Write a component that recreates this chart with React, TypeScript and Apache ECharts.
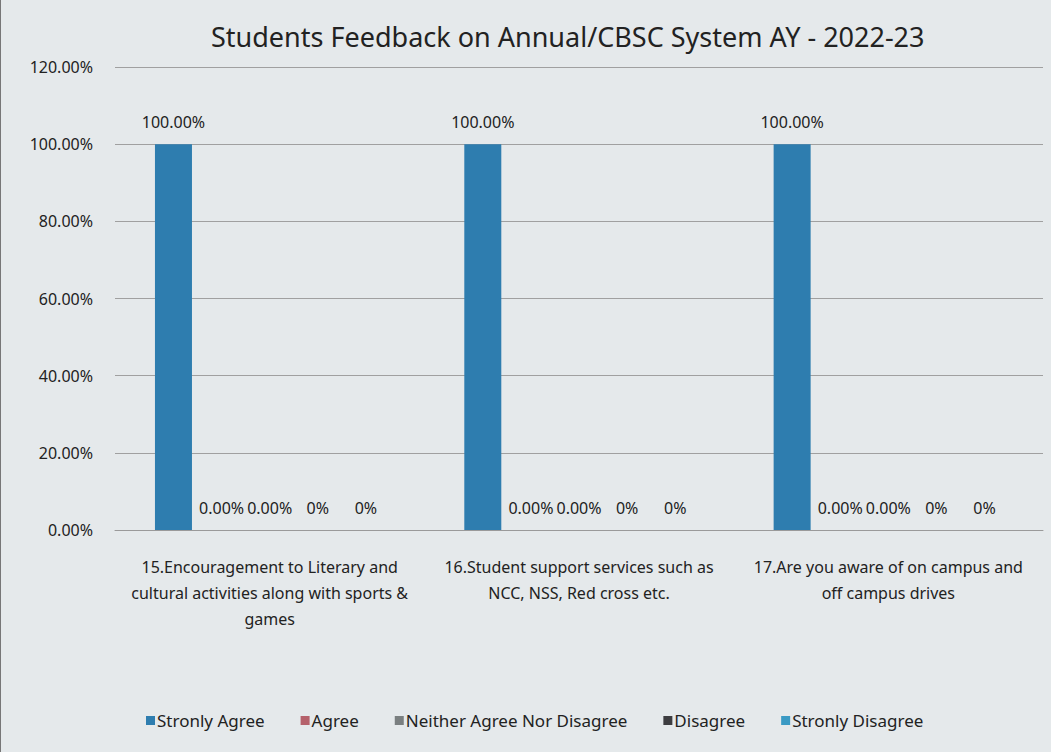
import React, { useEffect, useRef } from "react";
import * as echarts from "echarts";

const categories = [
  "15.Encouragement to Literary and\ncultural activities along with sports &\ngames",
  "16.Student support services such as\nNCC, NSS, Red cross etc.",
  "17.Are you aware of on campus and\noff campus drives",
];
const seriesNames = [
  "Stronly Agree",
  "Agree",
  "Neither Agree Nor Disagree",
  "Disagree",
  "Stronly Disagree",
];
const stronglyAgree = [100, 100, 100];
const agree = [0, 0, 0];
const neither = [0, 0, 0];
const disagree = [0, 0, 0];
const stronglyDisagree = [0, 0, 0];
const labelDecimals = [2, 2, 2, 0, 0];
const colors = ["#2E7DAF", "#B5616B", "#7A7F80", "#3D3D40", "#3A9AC4"];
const yTicks = { min: 0, max: 120, interval: 20 };

const FONT = "'Noto Sans', sans-serif";

export default function App() {
  const ref = useRef<HTMLDivElement>(null);
  useEffect(() => {
    document.body.style.margin = "0";
    if (!ref.current) return;
    const chart = echarts.init(ref.current, undefined, { renderer: "svg" });
    const data = [stronglyAgree, agree, neither, disagree, stronglyDisagree];
    chart.setOption({
      animation: false,
      backgroundColor: "#E5E9EB",
      color: colors,
      textStyle: { fontFamily: FONT },
      title: {
        text: "Students Feedback on Annual/CBSC System AY - 2022-23",
        left: 205,
        top: 18,
        textStyle: { fontSize: 27, fontWeight: "normal", color: "#222", fontFamily: FONT },
      },
      legend: {
        bottom: 18,
        left: 140,
        itemWidth: 9,
        itemHeight: 9,
        itemGap: 36,
        icon: "rect",
        textStyle: { fontSize: 17, color: "#222", fontFamily: FONT, padding: [0, 0, 0, -3] },
        data: seriesNames,
      },
      grid: { left: 114, right: 8, top: 67, bottom: 222, containLabel: false },
      xAxis: {
        type: "category",
        data: categories,
        axisLine: { lineStyle: { color: "#9a9a9a" } },
        axisTick: { show: false },
        axisLabel: {
          fontSize: 16,
          color: "#222",
          lineHeight: 26,
          margin: 24,
          interval: 0,
          fontFamily: FONT,
        },
      },
      yAxis: {
        type: "value",
        min: yTicks.min,
        max: yTicks.max,
        interval: yTicks.interval,
        axisLine: { show: false },
        axisTick: { show: false },
        splitLine: { lineStyle: { color: "#a0a0a0", width: 1 } },
        axisLabel: {
          fontSize: 16,
          color: "#222",
          margin: 22,
          fontFamily: FONT,
          formatter: (v: number) => v.toFixed(2) + "%",
        },
      },
      series: seriesNames.map((name, i) => ({
        name,
        type: "bar",
        data: data[i],
        barWidth: 37,
        barGap: "30%",
        label: {
          show: true,
          position: "top",
          distance: 14,
          fontSize: 16,
          color: "#222",
          fontFamily: FONT,
          formatter: (p: any) => Number(p.value).toFixed(labelDecimals[i]) + "%",
        },
      })),
    });
    return () => chart.dispose();
  }, []);
  return (
    <div
      ref={ref}
      style={{ width: 1051, height: 752, borderLeft: "1px solid #777", boxSizing: "border-box" }}
    />
  );
}
